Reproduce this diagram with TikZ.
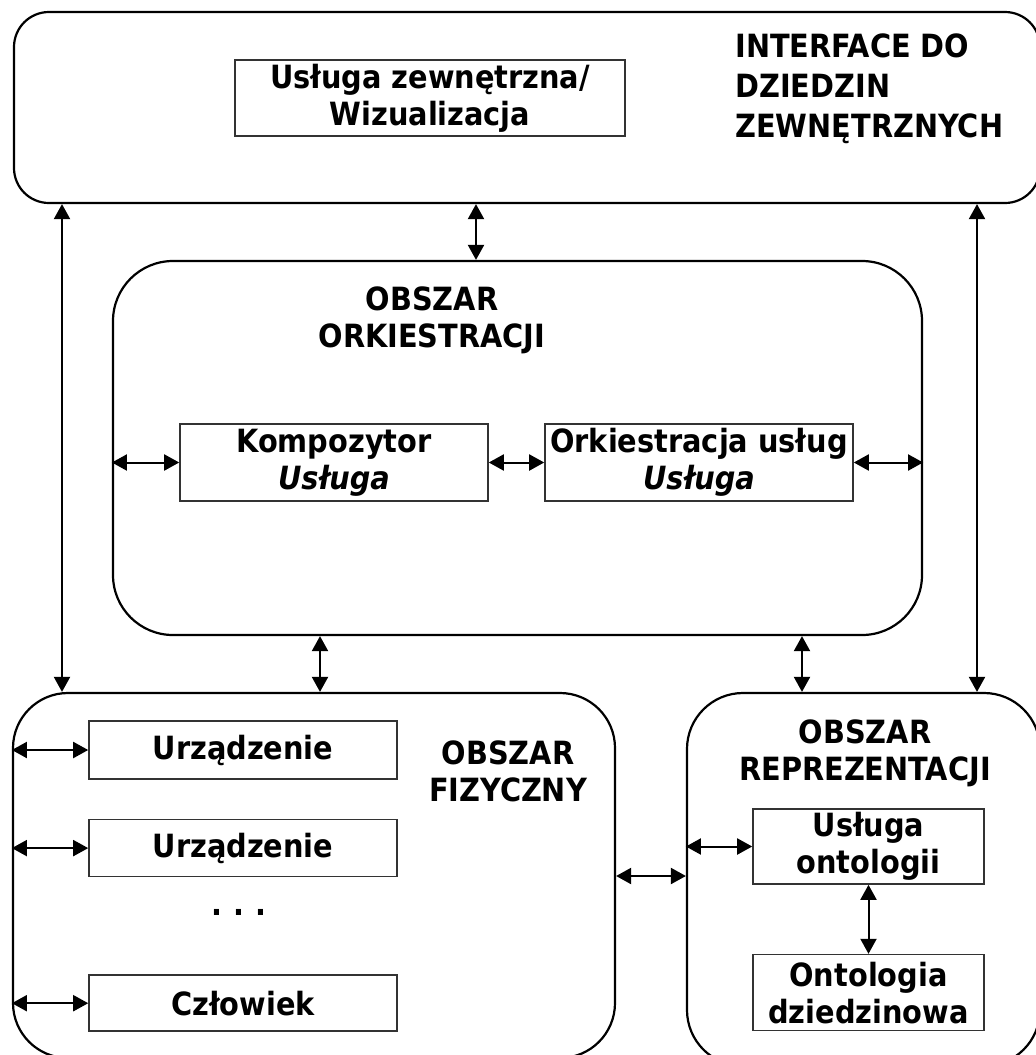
\documentclass[tikz,border=0pt]{standalone}
\usepackage{fontspec}
\setmainfont{DejaVu Sans Condensed}
\usetikzlibrary{arrows.meta,positioning}

\begin{document}
\begin{tikzpicture}[x=0.5pt, y=-0.5pt, >={Triangle[length=7.5pt,width=8pt]},
  area/.style={draw, line width=1.1pt, rounded corners=#1, inner sep=0pt},
  box/.style={draw=black!80, line width=0.8pt, align=center, inner sep=0pt, minimum width=154pt},
  lbl/.style={align=center, inner sep=0pt},
  link/.style={<->, line width=1pt},
  every node/.append style={font=\fontsize{16pt}{18.5pt}\selectfont\bfseries}]
  \useasboundingbox (0,0) rectangle (1035,1055);

  % Areas
  \node[area=17.5pt, minimum width=513pt, minimum height=95.5pt] (top) at (527,107.5) {};
  \node[area=30pt, minimum width=404.5pt, minimum height=187pt] (orch) at (517.5,448) {};
  \node[area=27.5pt, minimum width=301pt, minimum height=182.5pt] (phys) at (314,875.5) {};
  \node[area=28pt, minimum width=176.5pt, minimum height=186.5pt] (repr) at (863.5,879.5) {};

  % Area titles
  \node[lbl, anchor=west, align=left, font=\fontsize{16pt}{20pt}\selectfont\bfseries] (ifacelbl) at (735,89) {INTERFACE DO\\DZIEDZIN\\ZEWNĘTRZNYCH};
  \node[lbl] (orchlbl) at (432,320) {OBSZAR\\ORKIESTRACJI};
  \node[lbl] (physlbl) at (508,771) {OBSZAR\\FIZYCZNY};
  \node[lbl] (reprlbl) at (865,753) {OBSZAR\\REPREZENTACJI};

  % Boxes
  \node[box, minimum width=195pt, minimum height=38pt] (ext) at (430,98) {Usługa zewnętrzna/\\Wizualizacja};
  \node[box, minimum height=38.5pt] (komp) at (334,462.5) {Kompozytor\\\textit{Usługa}};
  \node[box, minimum height=38.5pt] (orkus) at (699,462.5) {Orkiestracja usług\\\textit{Usługa}};
  \node[box, minimum height=29pt] (dev1) at (243,750) {Urządzenie};
  \node[box, minimum height=28.5pt, below=19.5pt of dev1] (dev2) {Urządzenie};
  \node[box, minimum height=28pt, below=48.5pt of dev2] (human) {Człowiek};
  \node[lbl] (dots) at (239,912) {.\,\,.\,\,.};
  \node[box, minimum width=115.5pt, minimum height=37.5pt] (osvc) at (868.5,846.5) {Usługa\\ontologii};
  \node[box, minimum width=115.5pt, minimum height=38pt, below=34.5pt of osvc] (onto) {Ontologia\\dziedzinowa};

  % Arrows
  \coordinate (xa) at (62,0);
  \coordinate (xb) at (977,0);
  \coordinate (xc) at (476,0);
  \coordinate (xd) at (320,0);
  \coordinate (xe) at (802,0);
  \coordinate (ym) at (0,876);
  \draw[link] (top.south -| xa) -- (phys.north -| xa);
  \draw[link] (top.south -| xb) -- (repr.north -| xb);
  \draw[link] (top.south -| xc) -- (orch.north -| xc);
  \draw[link] (orch.south -| xd) -- (phys.north -| xd);
  \draw[link] (orch.south -| xe) -- (repr.north -| xe);
  \draw[link] (orch.west |- komp) -- (komp.west);
  \draw[link] (komp.east) -- (orkus.west);
  \draw[link] (orkus.east) -- (orch.east |- orkus);
  \foreach \n in {dev1,dev2,human}
    \draw[link] (phys.west |- \n) -- (\n.west);
  \draw[link] (phys.east |- ym) -- (repr.west |- ym);
  \draw[link] (repr.west |- osvc) -- (osvc.west);
  \draw[link] (osvc.south) -- (onto.north);
\end{tikzpicture}
\end{document}
